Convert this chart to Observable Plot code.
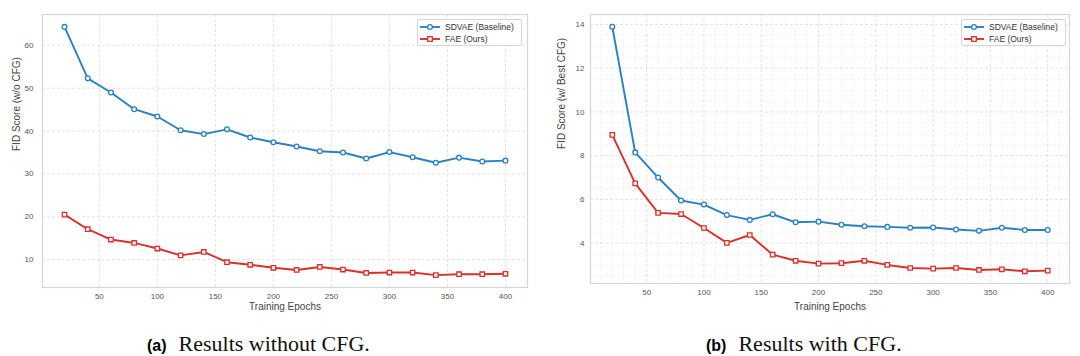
<!DOCTYPE html>
<html><head><meta charset="utf-8">
<script src="https://cdn.jsdelivr.net/npm/d3@7"></script>
<script src="https://cdn.jsdelivr.net/npm/@observablehq/plot@0.6"></script>
<style>
body{margin:0;background:#fff;}
#root{position:relative;width:1080px;height:356px;overflow:hidden;background:#fff;}
.panel{position:absolute;top:0;}
.legend{position:absolute;box-sizing:border-box;background:rgba(255,255,255,0.85);border:1px solid #d4d4d4;border-radius:2px;font:8.5px "Liberation Sans",Arial,sans-serif;color:#333;}
.legend .row{position:absolute;left:2px;height:10px;display:flex;align-items:center;white-space:nowrap;}
.legend svg{margin-right:5px;}
.cap{position:absolute;top:333px;height:21px;white-space:nowrap;line-height:21px;}
.cap b{font:bold 16px/21px "Liberation Sans",Arial,sans-serif;margin-right:12px;}
.cap span{font:22px/21px "Liberation Serif","Times New Roman",serif;color:#111;}
</style>
</head><body><div id="root"></div>
<script>
// ---- data ----
const epochs = [20, 40, 60, 80, 100, 120, 140, 160, 180, 200, 220, 240, 260, 280, 300, 320, 340, 360, 380, 400];
const sdvaeNoCfg = [64.3, 52.3, 49.0, 45.1, 43.4, 40.2, 39.3, 40.4, 38.5, 37.4, 36.4, 35.3, 35.0, 33.6, 35.1, 33.9, 32.6, 33.8, 32.9, 33.1];
const faeNoCfg   = [20.5, 17.1, 14.7, 13.9, 12.6, 11.0, 11.8, 9.4, 8.8, 8.1, 7.6, 8.3, 7.7, 6.9, 7.0, 7.0, 6.4, 6.6, 6.6, 6.7];
const sdvaeCfg   = [13.9, 8.15, 7.0, 5.95, 5.76, 5.28, 5.06, 5.32, 4.95, 4.98, 4.84, 4.77, 4.74, 4.70, 4.71, 4.62, 4.56, 4.70, 4.60, 4.60];
const faeCfg     = [8.95, 6.73, 5.38, 5.33, 4.69, 4.01, 4.37, 3.47, 3.19, 3.06, 3.08, 3.19, 3.00, 2.86, 2.83, 2.86, 2.77, 2.80, 2.71, 2.74];
const seriesNames = ["SDVAE (Baseline)", "FAE (Ours)"];
const xTicks = [50, 100, 150, 200, 250, 300, 350, 400];
const xMinorTicks = [10,20,30,40,60,70,80,90,110,120,130,140,160,170,180,190,210,220,230,240,260,270,280,290,310,320,330,340,360,370,380,390,410];
const yTicksA = [10, 20, 30, 40, 50, 60];
const yTicksB = [4, 6, 8, 10, 12, 14];
const yMinorB = [2.5,3,3.5,4.5,5,5.5,6.5,7,7.5,8.5,9,9.5,10.5,11,11.5,12.5,13,13.5];
const xLabel = "Training Epochs";
const yLabelA = "FID Score (w/o CFG)";
const yLabelB = "FID Score (w/ Best CFG)";
const captionA = ["(a)", "Results without CFG."];
const captionB = ["(b)", "Results with CFG."];

const BLUE = "#2b80c0", RED = "#d9302b";
const pad = ext => { const r = ext[1] - ext[0]; return [ext[0] - 0.05 * r, ext[1] + 0.05 * r]; };
const rows = vals => epochs.map((e, i) => ({epoch: e, value: vals[i]}));

function panel({s1, s2, yTicks, yLabel, minor, ml, mr, mb, tickPad, labelDx, labelDy}) {
  const yDom = pad(d3.extent([...s1, ...s2]));
  const gridStyle = {stroke: "#dcdcdc", strokeOpacity: 1, strokeDasharray: "3,2", strokeWidth: 0.8};
  const minorStyle = {stroke: "#e8e8e8", strokeOpacity: 1, strokeDasharray: "2,2", strokeWidth: 0.6};
  const marks = [];
  if (minor) {
    marks.push(Plot.gridX(xMinorTicks, minorStyle));
    marks.push(Plot.gridY(yMinorB, minorStyle));
  }
  marks.push(
    Plot.gridX(xTicks, gridStyle),
    Plot.gridY(yTicks, gridStyle),
    Plot.frame({stroke: "#d6d6d6", strokeWidth: 1.2}),
    Plot.axisX(xTicks, {tickSize: 0, tickPadding: 6, label: null, fill: "#555"}),
    Plot.axisY(yTicks, {tickSize: 0, tickPadding: tickPad, label: null, fill: "#555"}),
    Plot.line(rows(s1), {x: "epoch", y: "value", stroke: BLUE, strokeWidth: 1.9}),
    Plot.dot(rows(s1), {x: "epoch", y: "value", r: 2.4, fill: "white", stroke: BLUE, strokeWidth: 1.3}),
    Plot.line(rows(s2), {x: "epoch", y: "value", stroke: RED, strokeWidth: 1.9}),
    Plot.dot(rows(s2), {x: "epoch", y: "value", symbol: "square", r: 2.5, fill: "white", stroke: RED, strokeWidth: 1.3}),
    Plot.text([xLabel], {text: d => d, frameAnchor: "bottom", dy: labelDy, fontSize: 10, fill: "#444"}),
    Plot.text([yLabel], {text: d => d, frameAnchor: "left", dx: labelDx, rotate: -90, fontSize: 10, fill: "#444"})
  );
  return Plot.plot({
    width: 540, height: 320,
    marginLeft: ml, marginRight: mr, marginTop: 14, marginBottom: mb,
    x: {domain: pad(d3.extent(epochs)), label: null},
    y: {domain: yDom, label: null},
    style: {fontFamily: '"Liberation Sans", Arial, sans-serif', fontSize: "8px", color: "#555", background: "transparent", overflow: "visible"},
    marks
  });
}

const root = document.getElementById("root");
function place(el, left) { el.classList.add("panel"); el.style.left = left + "px"; root.appendChild(el); }
place(panel({s1: sdvaeNoCfg, s2: faeNoCfg, yTicks: yTicksA, yLabel: yLabelA, minor: false, ml: 42, mr: 13, mb: 33, tickPad: 9, labelDx: -26, labelDy: 22}), 0);
place(panel({s1: sdvaeCfg, s2: faeCfg, yTicks: yTicksB, yLabel: yLabelB, minor: true, ml: 50, mr: 11, mb: 37, tickPad: 6, labelDx: -29, labelDy: 26}), 540);

function legend(left, top, w) {
  const d = document.createElement("div");
  d.className = "legend";
  Object.assign(d.style, {left: left + "px", top: top + "px", width: w + "px", height: "27px"});
  const specs = [[seriesNames[0], BLUE, "circle"], [seriesNames[1], RED, "square"]];
  specs.forEach(([name, c, shape], i) => {
    const r = document.createElement("div");
    r.className = "row";
    r.style.top = (i === 0 ? 1.7 : 14.3) + "px";
    const mk = shape === "circle"
      ? `<circle cx="10" cy="5" r="2.4" fill="white" stroke="${c}" stroke-width="1.3"/>`
      : `<rect x="7.7" y="2.7" width="4.6" height="4.6" fill="white" stroke="${c}" stroke-width="1.3"/>`;
    r.innerHTML = `<svg width="20" height="10"><line x1="0" x2="20" y1="5" y2="5" stroke="${c}" stroke-width="1.9"/>${mk}</svg><span>${name}</span>`;
    d.appendChild(r);
  });
  root.appendChild(d);
}
legend(417, 19, 105);
legend(961, 19, 105);

function caption(left, parts) {
  const d = document.createElement("div");
  d.className = "cap";
  d.style.left = left + "px";
  d.innerHTML = `<b>${parts[0]}</b><span>${parts[1]}</span>`;
  root.appendChild(d);
}
caption(147, captionA);
caption(706, captionB);
</script>
</body></html>
